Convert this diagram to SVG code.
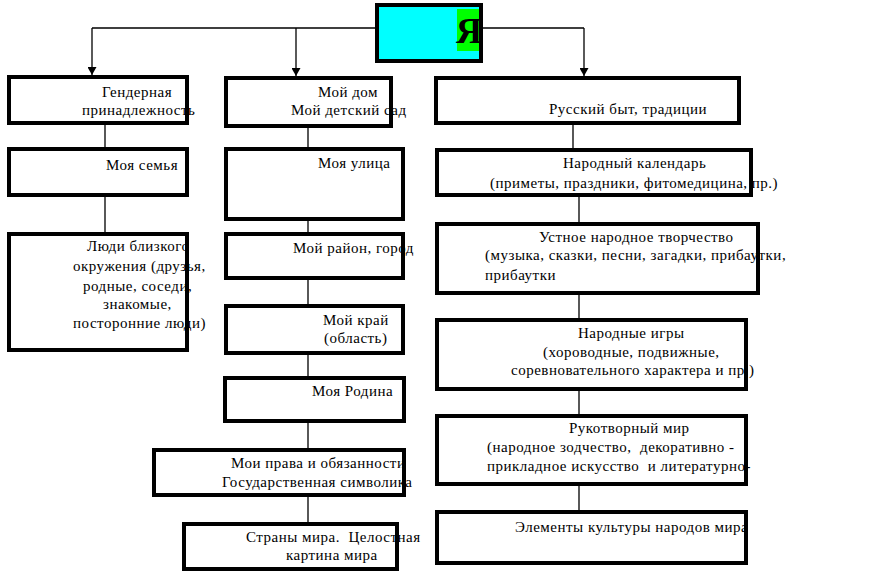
<svg xmlns="http://www.w3.org/2000/svg" width="873" height="574" viewBox="0 0 873 574">
<style>
.b{fill:#fff;stroke:#000;stroke-width:4}
.c{stroke:#000;stroke-width:1.3;fill:none}
text{font-family:"Liberation Serif","Times New Roman",serif;font-size:15px;letter-spacing:0.5px;fill:#000}
</style>
<defs>
<marker id="ah" markerWidth="8" markerHeight="9" refX="8" refY="4.5" orient="auto" markerUnits="userSpaceOnUse" viewBox="0 0 8 9">
<path d="M0,0 L8,4.5 L0,9 Z" fill="#000"/>
</marker>
</defs>
<rect x="0" y="0" width="873" height="574" fill="#fff"/>
<g id="connectors">
<path class="c" d="M92,28 H379 M478,28 H584"/>
<path class="c" d="M92,28 V75" marker-end="url(#ah)"/>
<path class="c" d="M296,28 V76" marker-end="url(#ah)"/>
<path class="c" d="M584,28 V76" marker-end="url(#ah)"/>
<path class="c" d="M105,125 V147 M105,197 V232"/>
<path class="c" d="M308,124 V147 M308,221 V232 M308,280 V304 M308,355 V376 M308,423 V448 M308,497 V522"/>
<path class="c" d="M573,125 V148 M579,197 V222 M579,295 V318 M579,391 V414 M579,486 V510"/>
</g>
<g id="n-ya">
<rect x="377" y="5" width="104" height="56" fill="#00ffff"/>
<rect x="457" y="9" width="24" height="42" fill="#00ff00"/>
<rect x="377" y="5" width="104" height="56" fill="none" stroke="#000" stroke-width="4"/>
<text x="456" y="43" style="font-size:36px;font-weight:bold;letter-spacing:0">Я</text>
</g>
<g id="n-gender">
<rect class="b" x="9" y="77" width="178" height="46"/>
<text x="102" y="97">Гендерная</text>
<text x="82" y="115">принадлежность</text>
</g>
<g id="n-dom">
<rect class="b" x="226" y="78" width="165" height="48"/>
<text x="318" y="97">Мой дом</text>
<text x="291" y="115">Мой детский сад</text>
</g>
<g id="n-byt">
<rect class="b" x="436" y="78" width="303" height="45"/>
<text x="549" y="114">Русский быт, традиции</text>
</g>
<g id="n-semya">
<rect class="b" x="9" y="149" width="178" height="46"/>
<text x="106" y="170">Моя семья</text>
</g>
<g id="n-lyudi">
<rect class="b" x="9" y="234" width="178" height="116"/>
<text x="87" y="251">Люди близкого</text>
<text x="73" y="271">окружения (друзья,</text>
<text x="83" y="291">родные, соседи,</text>
<text x="103" y="309">знакомые,</text>
<text x="73" y="328">посторонние люди)</text>
</g>
<g id="n-ulitsa">
<rect class="b" x="226" y="149" width="177" height="70"/>
<text x="318" y="168">Моя улица</text>
</g>
<g id="n-rayon">
<rect class="b" x="226" y="234" width="177" height="44"/>
<text x="293" y="253">Мой район, город</text>
</g>
<g id="n-kray">
<rect class="b" x="226" y="306" width="177" height="47"/>
<text x="323" y="325">Мой край</text>
<text x="324" y="343">(область)</text>
</g>
<g id="n-rodina">
<rect class="b" x="225" y="378" width="179" height="43"/>
<text x="312" y="396">Моя Родина</text>
</g>
<g id="n-prava">
<rect class="b" x="154" y="450" width="250" height="45"/>
<text x="231" y="468">Мои права и обязанности</text>
<text x="222" y="487">Государственная символика</text>
</g>
<g id="n-strany">
<rect class="b" x="184" y="524" width="213" height="45"/>
<text x="246" y="542" xml:space="preserve">Страны мира.  Целостная</text>
<text x="286" y="560">картина мира</text>
</g>
<g id="n-kalendar">
<rect class="b" x="437" y="150" width="314" height="45"/>
<text x="563" y="168">Народный календарь</text>
<text x="490" y="188">(приметы, праздники, фитомедицина, пр.)</text>
</g>
<g id="n-ustnoe">
<rect class="b" x="437" y="224" width="321" height="69"/>
<text x="539" y="242">Устное народное творчество</text>
<text x="485" y="260">(музыка, сказки, песни, загадки, прибаутки,</text>
<text x="485" y="280">прибаутки</text>
</g>
<g id="n-igry">
<rect class="b" x="437" y="320" width="309" height="69"/>
<text x="578" y="338">Народные игры</text>
<text x="543" y="357">(хороводные, подвижные,</text>
<text x="511" y="375">соревновательного характера и пр.)</text>
</g>
<g id="n-ruko">
<rect class="b" x="437" y="416" width="309" height="68"/>
<text x="569" y="433">Рукотворный мир</text>
<text x="487" y="452" xml:space="preserve">(народное зодчество,  декоративно -</text>
<text x="487" y="471" xml:space="preserve">прикладное искусство  и литературно-</text>
</g>
<g id="n-elem">
<rect class="b" x="437" y="512" width="309" height="51"/>
<text x="515" y="532">Элементы культуры народов мира</text>
</g>
</svg>
